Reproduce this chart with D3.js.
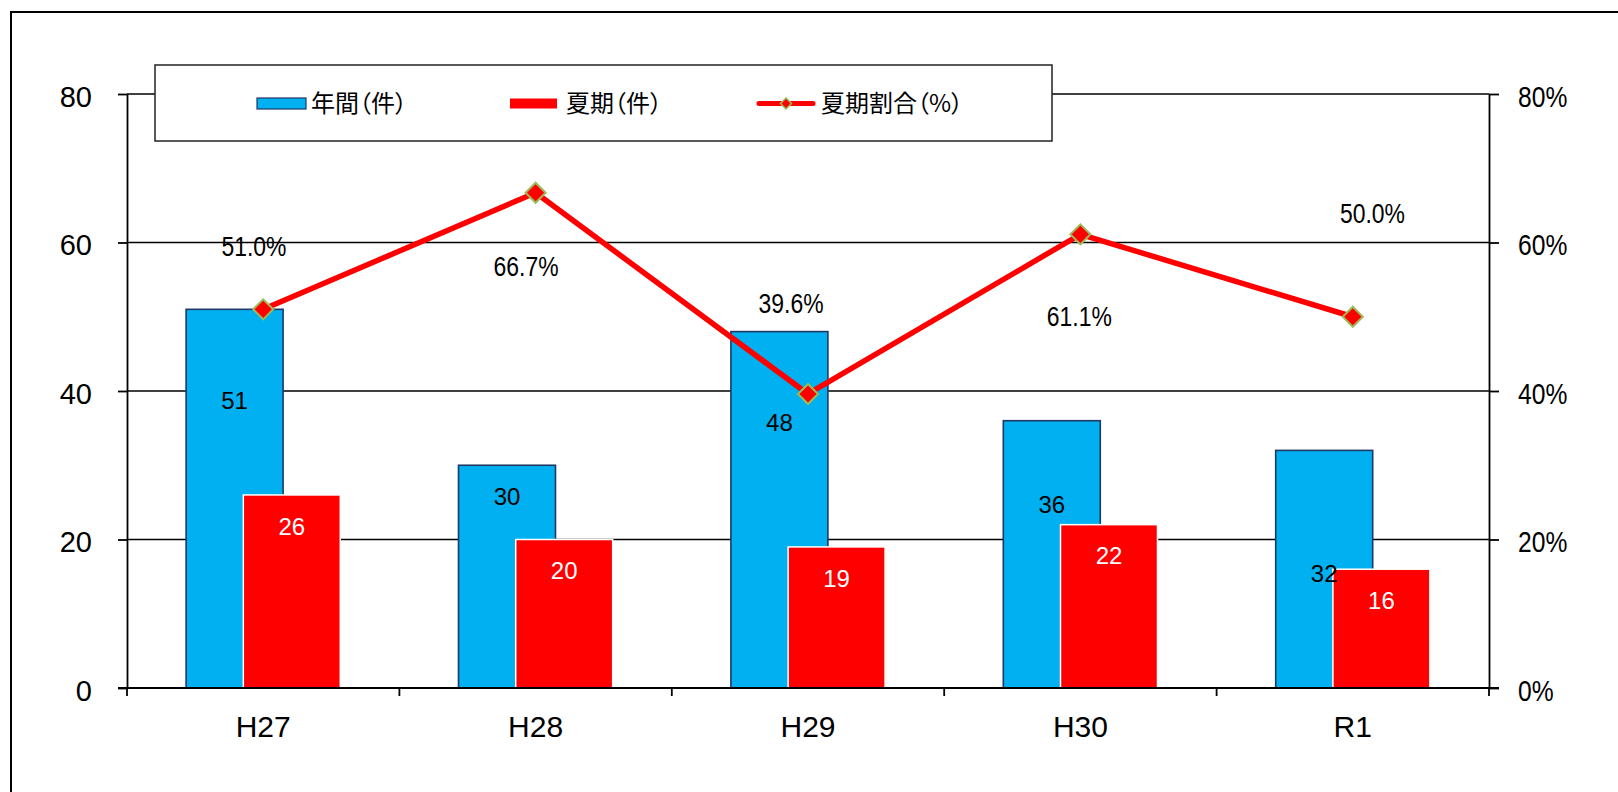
<!DOCTYPE html>
<html>
<head>
<meta charset="utf-8">
<script src="https://cdn.jsdelivr.net/npm/d3@7"></script>
<style>
  body { margin: 0; background: #fff; }
  text { font-family: "Liberation Sans", Arial, sans-serif; fill: #000; }
  .jp { font-family: "Noto Sans CJK JP", sans-serif; font-feature-settings: "palt"; }
</style>
</head>
<body>
<svg id="chart"></svg>
<script>
// categories and series
var categories = ["H27", "H28", "H29", "H30", "R1"];
var annual = [51, 30, 48, 36, 32];          // 年間(件)
var summer = [26, 20, 19, 22, 16];          // 夏期(件)
var summerRate = [51.0, 66.7, 39.6, 61.1, 50.0]; // 夏期割合(%)
var countTicks = [0, 20, 40, 60, 80];
var legendNames = ["年間（件）", "夏期（件）", "夏期割合（%）"];

// where the moved data labels sit, in axis units
var annualLabelAt = [38.7, 25.8, 35.8, 24.7, 15.4];
var rateLabelAt = [59.5, 56.8, 51.8, 50.0, 64.0];
var rateLabelShift = [-0.034, -0.035, -0.062, -0.004, 0.072];

var W = 1618, H = 792;
var plot = { left: 127, right: 1489, top: 94, bottom: 688 };
var squeeze = 0.85; // percent text is narrower in the original

var svg = d3.select("#chart").attr("width", W).attr("height", H);

// chart frame (runs off the right and bottom edges)
svg.append("rect")
  .attr("x", 11).attr("y", 12)
  .attr("width", W + 50).attr("height", H + 50)
  .attr("fill", "none").attr("stroke", "#000").attr("stroke-width", 2);

var x = d3.scaleBand().domain(categories).range([plot.left, plot.right]);
var y = d3.scaleLinear().domain([0, 80]).range([plot.bottom, plot.top]);
var yR = d3.scaleLinear().domain([0, 80]).range([plot.bottom, plot.top]);

var bw = x.bandwidth();
var barW = bw * 0.356;
var shift = bw * 0.105;
var cx = function(i) { return x(categories[i]) + bw / 2; };

// gridlines
svg.append("g").selectAll("line")
  .data(countTicks.filter(function(d) { return d > 0; }))
  .enter().append("line")
  .attr("x1", plot.left).attr("x2", plot.right)
  .attr("y1", y).attr("y2", y)
  .attr("stroke", "#000").attr("stroke-width", 1.5);

// legend box sits over the top gridline
var lg = svg.append("g");
lg.append("rect")
  .attr("x", 155).attr("y", 65).attr("width", 897).attr("height", 76)
  .attr("fill", "#fff").attr("stroke", "#222").attr("stroke-width", 1.5);
lg.append("rect")
  .attr("x", 257).attr("y", 98).attr("width", 49).attr("height", 11)
  .attr("fill", "#00B0F0").attr("stroke", "#1F3864").attr("stroke-width", 1.2);
lg.append("rect")
  .attr("x", 510).attr("y", 98.5).attr("width", 47).attr("height", 10)
  .attr("fill", "#FF0000");
lg.append("line")
  .attr("x1", 759).attr("x2", 813).attr("y1", 103.5).attr("y2", 103.5)
  .attr("stroke", "#FF0000").attr("stroke-width", 5).attr("stroke-linecap", "round");
lg.append("path")
  .attr("d", "M786,98L791.5,103.5L786,109L780.5,103.5Z")
  .attr("fill", "#FF0000").attr("stroke", "#9BBB59").attr("stroke-width", 1.5);
lg.selectAll("text.leg")
  .data(legendNames)
  .enter().append("text")
  .attr("class", "jp leg")
  .attr("x", function(d, i) { return [311, 566, 821][i]; })
  .attr("y", 112)
  .style("font-size", "24px")
  .text(function(d) { return d; });

// bars
var bars = svg.append("g");
bars.selectAll("rect.annual")
  .data(annual)
  .enter().append("rect")
  .attr("class", "annual")
  .attr("x", function(d, i) { return cx(i) - shift - barW / 2; })
  .attr("y", function(d) { return y(d); })
  .attr("width", barW)
  .attr("height", function(d) { return y(0) - y(d); })
  .attr("fill", "#00B0F0").attr("stroke", "#1F3864").attr("stroke-width", 1.6);

bars.selectAll("rect.summer")
  .data(summer)
  .enter().append("rect")
  .attr("class", "summer")
  .attr("x", function(d, i) { return cx(i) + shift - barW / 2; })
  .attr("y", function(d) { return y(d); })
  .attr("width", barW)
  .attr("height", function(d) { return y(0) - y(d); })
  .attr("fill", "#FF0000").attr("stroke", "#fff").attr("stroke-width", 1.5);

// rate line
var line = d3.line()
  .x(function(d, i) { return cx(i); })
  .y(function(d) { return yR(d); });

svg.append("path")
  .datum(summerRate)
  .attr("d", line)
  .attr("fill", "none").attr("stroke", "#FF0000").attr("stroke-width", 5.5)
  .attr("stroke-linejoin", "round");

svg.append("g").selectAll("path")
  .data(summerRate)
  .enter().append("path")
  .attr("d", d3.symbol().type(d3.symbolSquare).size(200))
  .attr("transform", function(d, i) { return "translate(" + cx(i) + "," + yR(d) + ") rotate(45)"; })
  .attr("fill", "#FF0000").attr("stroke", "#9BBB59").attr("stroke-width", 2);

// data labels
var labels = svg.append("g").attr("text-anchor", "middle");
labels.selectAll("text.a")
  .data(annual)
  .enter().append("text")
  .attr("x", function(d, i) { return cx(i) - shift; })
  .attr("y", function(d, i) { return y(annualLabelAt[i]); })
  .attr("dy", "0.36em")
  .style("font-size", "24px")
  .text(function(d) { return d; });

labels.selectAll("text.s")
  .data(summer)
  .enter().append("text")
  .attr("x", function(d, i) { return cx(i) + shift; })
  .attr("y", function(d) { return y(d) + 31; })
  .attr("dy", "0.36em")
  .style("font-size", "24px")
  .style("fill", "#fff")
  .text(function(d) { return d; });

labels.selectAll("text.r")
  .data(summerRate)
  .enter().append("text")
  .attr("transform", function(d, i) {
    return "translate(" + (cx(i) + rateLabelShift[i] * bw) + "," + yR(rateLabelAt[i]) + ") scale(" + squeeze + ",1)";
  })
  .attr("dy", "0.36em")
  .style("font-size", "27px")
  .text(function(d) { return d.toFixed(1) + "%"; });

// axes
var leftAxis = d3.axisLeft(y).tickValues(countTicks).tickSize(9).tickSizeOuter(0).tickPadding(26);
var rightAxis = d3.axisRight(yR).tickValues(countTicks).tickSize(10).tickSizeOuter(0).tickPadding(19)
  .tickFormat(function(d) { return d + "%"; });

var gl = svg.append("g").attr("transform", "translate(" + plot.left + ",0)").call(leftAxis);
var gr = svg.append("g").attr("transform", "translate(" + plot.right + ",0)").call(rightAxis);
[gl, gr].forEach(function(g) {
  g.selectAll("path, line").attr("stroke", "#000").attr("stroke-width", 1.8);
  g.selectAll("text").style("font-size", "29px").attr("fill", "#000").attr("font-family", null)
    .attr("y", 3);
});
gr.selectAll("text")
  .attr("x", 29 / squeeze)
  .attr("transform", "scale(" + squeeze + ",1)");

// category axis
var gb = svg.append("g");
gb.append("line")
  .attr("x1", plot.left - 9).attr("x2", plot.right + 10)
  .attr("y1", plot.bottom).attr("y2", plot.bottom)
  .attr("stroke", "#000").attr("stroke-width", 2.2);
gb.selectAll("line.tick")
  .data(categories.map(function(c) { return x(c); }).concat([plot.right]))
  .enter().append("line")
  .attr("x1", function(d) { return d; }).attr("x2", function(d) { return d; })
  .attr("y1", plot.bottom).attr("y2", plot.bottom + 8)
  .attr("stroke", "#000").attr("stroke-width", 1.8);
gb.selectAll("text")
  .data(categories)
  .enter().append("text")
  .attr("x", function(d) { return x(d) + bw / 2; })
  .attr("y", plot.bottom + 38)
  .attr("dy", "0.36em")
  .attr("text-anchor", "middle")
  .style("font-size", "30px")
  .text(function(d) { return d; });
</script>
</body>
</html>
